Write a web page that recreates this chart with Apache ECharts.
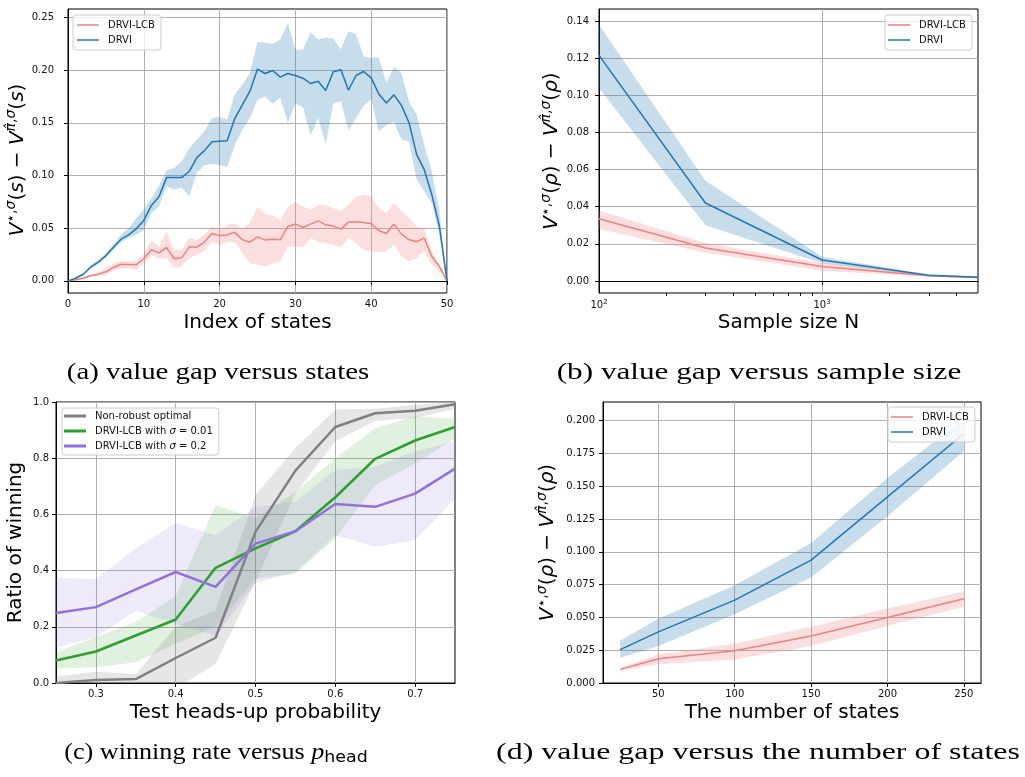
<!DOCTYPE html>
<html><head><meta charset="utf-8">
<script src="https://cdn.jsdelivr.net/npm/echarts@6/dist/echarts.min.js"></script>
<style>html,body{margin:0;padding:0;background:#fff}#c{width:1025px;height:777px}</style>
</head><body><div id="c"></div>
<script>
// ---------- (a) value gap versus states ----------
const aStates = [0,1,2,3,4,5,6,7,8,9,10,11,12,13,14,15,16,17,18,19,20,21,22,23,24,25,26,27,28,29,30,31,32,33,34,35,36,37,38,39,40,41,42,43,44,45,46,47,48,49,50];
const aDRVI = [0,0.0025,0.0063,0.013,0.0177,0.024,0.032,0.0396,0.0437,0.0494,0.0574,0.0716,0.0798,0.098,0.098,0.098,0.104,0.117,0.1236,0.132,0.1325,0.133,0.154,0.167,0.18,0.201,0.1968,0.1996,0.1933,0.1968,0.1949,0.1923,0.1873,0.1895,0.1806,0.1984,0.2003,0.1809,0.1949,0.1987,0.1926,0.1774,0.1689,0.1765,0.1664,0.1499,0.1198,0.1055,0.0818,0.0516,0];
const aDRVIHi = [0,0.003,0.007,0.015,0.02,0.026,0.035,0.044,0.05,0.0596,0.0675,0.0786,0.0897,0.105,0.107,0.1134,0.126,0.134,0.142,0.1546,0.1556,0.153,0.177,0.186,0.197,0.227,0.226,0.225,0.229,0.245,0.219,0.2196,0.236,0.229,0.231,0.230,0.2196,0.237,0.2345,0.213,0.2117,0.212,0.188,0.203,0.197,0.170,0.158,0.129,0.104,0.066,0];
const aDRVILo = [0,0.002,0.005,0.012,0.016,0.022,0.029,0.037,0.0406,0.0437,0.0485,0.0643,0.0707,0.0897,0.0865,0.0887,0.080,0.1023,0.110,0.111,0.110,0.108,0.129,0.1435,0.1546,0.172,0.175,0.168,0.174,0.150,0.168,0.165,0.138,0.1546,0.130,0.168,0.1705,0.143,0.1546,0.166,0.1727,0.142,0.148,0.151,0.134,0.1325,0.096,0.085,0.074,0.044,0];
const aLCB = [0,0.001,0.0025,0.0048,0.0063,0.0086,0.013,0.0158,0.0155,0.0152,0.021,0.0295,0.0266,0.0317,0.021,0.0219,0.0323,0.032,0.0368,0.045,0.0428,0.0437,0.046,0.039,0.0368,0.0418,0.0387,0.0396,0.039,0.0516,0.0539,0.0507,0.0539,0.057,0.0532,0.052,0.0491,0.0558,0.0561,0.0554,0.0542,0.0478,0.045,0.0539,0.0444,0.039,0.0374,0.0406,0.0231,0.0136,0];
const aLCBHi = [0,0.002,0.004,0.006,0.008,0.012,0.0168,0.019,0.0184,0.0184,0.0263,0.038,0.0326,0.0469,0.0295,0.0295,0.0406,0.039,0.0437,0.0516,0.0485,0.0532,0.0548,0.050,0.0548,0.0707,0.0634,0.062,0.058,0.0707,0.0745,0.0707,0.0675,0.0722,0.0716,0.069,0.0665,0.0722,0.080,0.0817,0.080,0.069,0.0643,0.0738,0.066,0.0596,0.0516,0.0494,0.0279,0.0152,0];
const aLCBLo = [0,0.0005,0.001,0.004,0.005,0.0057,0.0098,0.012,0.012,0.0105,0.0168,0.024,0.0215,0.0215,0.012,0.0136,0.0215,0.0247,0.0279,0.0368,0.0342,0.0368,0.0368,0.0263,0.0168,0.0152,0.0136,0.0168,0.0184,0.0326,0.0326,0.0317,0.0406,0.0368,0.0358,0.0342,0.0317,0.0406,0.0358,0.0295,0.0279,0.0272,0.0279,0.0342,0.0231,0.0184,0.0215,0.0285,0.0152,0.0089,0];
const aXTicks = [0,10,20,30,40,50];
const aYTicks = [0,0.05,0.10,0.15,0.20,0.25];

// ---------- (b) value gap versus sample size ----------
const bN = [100,300,1000,3000,5000];
const bDRVI = [0.1215,0.042,0.0113,0.003,0.002];
const bDRVIHi = [0.138,0.054,0.013,0.0035,0.0025];
const bDRVILo = [0.104,0.030,0.0095,0.0025,0.0015];
const bLCB = [0.0335,0.0177,0.0078,0.0028,0.0018];
const bLCBHi = [0.038,0.0205,0.0097,0.0033,0.0022];
const bLCBLo = [0.028,0.0152,0.0055,0.0023,0.0014];
const bXMajor = [100,1000];
const bXMinor = [200,300,400,500,600,700,800,900,2000,3000,4000];
const bYTicks = [0,0.02,0.04,0.06,0.08,0.10,0.12,0.14];

// ---------- (c) winning rate versus p_head ----------
const cP = [0.25,0.30,0.35,0.40,0.45,0.50,0.55,0.60,0.65,0.70,0.75];
const cNon = [0.0,0.011,0.014,0.089,0.161,0.538,0.756,0.911,0.96,0.969,0.992];
const cNonHi = [0.023,0.04,0.032,0.2,0.258,0.669,0.836,0.973,0.976,0.99,1.0];
const cNonLo = [-0.02,-0.02,-0.01,-0.02,0.068,0.36,0.675,0.86,0.933,0.943,0.976];
const cG = [0.08,0.112,0.169,0.226,0.41,0.479,0.54,0.661,0.798,0.863,0.911];
const cGHi = [0.11,0.163,0.217,0.31,0.633,0.586,0.68,0.80,0.907,0.949,0.94];
const cGLo = [0.052,0.056,0.074,0.14,0.2,0.37,0.389,0.514,0.705,0.78,0.871];
const cPu = [0.249,0.27,0.333,0.395,0.342,0.496,0.54,0.637,0.627,0.674,0.763];
const cPuHi = [0.374,0.371,0.479,0.570,0.526,0.627,0.645,0.758,0.77,0.824,0.86];
const cPuLo = [0.127,0.163,0.258,0.21,0.169,0.354,0.395,0.526,0.485,0.508,0.657];
const cXTicks = [0.3,0.4,0.5,0.6,0.7];
const cYTicks = [0,0.2,0.4,0.6,0.8,1.0];

// ---------- (d) value gap versus number of states ----------
const dS = [25,50,100,150,200,250];
const dDRVI = [0.0254,0.039,0.0632,0.0937,0.1419,0.190];
const dDRVIHi = [0.0322,0.049,0.0746,0.1068,0.1563,0.2015];
const dDRVILo = [0.0193,0.0282,0.0525,0.0805,0.1272,0.1766];
const dLCB = [0.0104,0.0185,0.0246,0.0358,0.05,0.0642];
const dLCBHi = [0.0117,0.0218,0.0302,0.0429,0.0569,0.0695];
const dLCBLo = [0.0094,0.0142,0.018,0.0282,0.0434,0.0581];
const dXTicks = [50,100,150,200,250];
const dYTicks = [0,0.025,0.05,0.075,0.1,0.125,0.15,0.175,0.2];

const NAME_LCB = 'DRVI-LCB', NAME_DRVI = 'DRVI';
const NAME_NON = 'Non-robust optimal', NAME_G = 'DRVI-LCB with σ=0.01', NAME_PU = 'DRVI-LCB with σ=0.2';

// ---------- styling ----------
const FONT = 'DejaVu Sans';
const C_LCB = '#f08080', C_DRVI = '#1f77b4', C_NON = '#808080', C_G = '#2ca02c', C_PU = '#9370db';
const GRID_C = '#b0b0b0';

function pairs(xs, ys){ return xs.map((x,i)=>[x, ys[i]]); }
function band(xs, lo, hi, fill, xi, yi){
  return {type:'custom', xAxisIndex:xi, yAxisIndex:yi, clip:true, silent:true, z:1,
    data: xs.map((x,i)=>[x, lo[i], hi[i]]),
    encode:{x:0, y:[1,2]},
    renderItem:function(params, api){
      if (params.dataIndex !== 0) return null;
      const pts = [];
      for (let i=0;i<xs.length;i++) pts.push(api.coord([xs[i], hi[i]]));
      for (let i=xs.length-1;i>=0;i--) pts.push(api.coord([xs[i], lo[i]]));
      const cs = params.coordSys;
      return {type:'group', children:[{type:'polygon', shape:{points:pts}, style:{fill:fill, stroke:null}}],
              clipPath:{type:'rect', shape:{x:cs.x, y:cs.y, width:cs.width, height:cs.height}}};
    }};
}
// minor ticks of the log axis, placed through the axis scale
function minorTicks(vals, xi, yi){
  return {type:'custom', xAxisIndex:xi, yAxisIndex:yi, clip:false, silent:true, z:5,
    data: vals.map(v=>[v, 0]), encode:{x:0, y:1},
    renderItem:function(params, api){
      const cs = params.coordSys;
      const p = api.coord([api.value(0), api.value(1)]);
      const yb = cs.y + cs.height;
      const x = Math.round(p[0]) + 0.5;
      return {type:'line', shape:{x1:x, y1:yb, x2:x, y2:yb + 3}, style:{stroke:'#000', lineWidth:1}};
    }};
}
function line(name, xs, ys, color, w, xi, yi){
  return {name, type:'line', xAxisIndex:xi, yAxisIndex:yi, data:pairs(xs, ys), symbol:'none', showSymbol:false,
          lineStyle:{color, width:w}, itemStyle:{color}, z:3};
}
const tickLbl = {fontFamily:FONT, fontSize:10, color:'#111'};
function vAxis(grid, min, max, step, ticks, fmt, margin, name, gap){
  return {type:'value', gridIndex:grid, min, max, minInterval:step, maxInterval:step,
    axisLine:{show:true, lineStyle:{color:'#000', width:1}},
    axisTick:{show:true, length:4, lineStyle:{color:'#000'}, customValues:ticks},
    axisLabel:Object.assign({margin, customValues:ticks, formatter:fmt, showMinLabel:true, showMaxLabel:true}, tickLbl),
    splitLine:{show:true, lineStyle:{color:GRID_C, width:1}},
    name, nameLocation:'middle', nameGap:gap};
}
const richMath = {
  v:{fontFamily:FONT, fontSize:20, fontStyle:'italic', color:'#000'},
  n:{fontFamily:FONT, fontSize:20, color:'#000'},
  sp:{fontFamily:FONT, fontSize:14, color:'#000', padding:[0,0,12,0]},
  si:{fontFamily:FONT, fontSize:14, fontStyle:'italic', color:'#000', padding:[0,0,12,0]}
};
function gapName(arg){ return '{v|V}{sp|⋆,}{si|σ}{n|(}{v|'+arg+'}{n|) − }{v|V}{si|π̂}{sp|,}{si|σ}{n|(}{v|'+arg+'}{n|)}'; }
function nameStyle(shift){ return {fontFamily:FONT, fontSize:20, color:'#000', rich:richMath, padding:shift}; }
const xNameStyle = {fontFamily:FONT, fontSize:20, color:'#000'};

const xAxes = [
  Object.assign(vAxis(0, 0, 50, 10, aXTicks, v=>String(v), 6, 'Index of states', 20), {nameTextStyle:xNameStyle}),
  {type:'log', gridIndex:1, logBase:10, min:100, max:5000, position:'bottom',
   axisLine:{show:true, lineStyle:{color:'#000'}},
   axisTick:{show:true, length:4, lineStyle:{color:'#000'}, customValues:bXMajor},
   axisLabel:Object.assign({margin:6, customValues:bXMajor, formatter:v=>'10{sup|'+Math.round(Math.log10(v))+'}',
     rich:{sup:{fontFamily:FONT, fontSize:7, color:'#111', padding:[0,0,6,0]}}}, tickLbl),
   splitLine:{show:true, lineStyle:{color:GRID_C, width:1}},
   name:'Sample size N', nameLocation:'middle', nameGap:20, nameTextStyle:xNameStyle},
  Object.assign(vAxis(2, 0.25, 0.75, 0.1, cXTicks, v=>v.toFixed(1), 6, 'Test heads-up probability', 20), {nameTextStyle:xNameStyle}),
  Object.assign(vAxis(3, 13.75, 261.25, 50, dXTicks, v=>String(v), 6, 'The number of states', 20), {nameTextStyle:xNameStyle})
];
const yAxes = [
  Object.assign(vAxis(0, -0.0115, 0.258, 0.05, aYTicks, v=>v.toFixed(2), 14, gapName('s'), 20), {nameTextStyle:nameStyle([0,18,0,0])}),
  Object.assign(vAxis(1, -0.0065, 0.1465, 0.02, bYTicks, v=>v.toFixed(2), 10, gapName('ρ'), 34), {nameTextStyle:nameStyle([0,0,0,0])}),
  Object.assign(vAxis(2, 0, 1, 0.2, cYTicks, v=>v.toFixed(1), 7, 'Ratio of winning', 30), {nameTextStyle:xNameStyle}),
  Object.assign(vAxis(3, 0, 0.2142, 0.025, dYTicks, v=>v.toFixed(3), 8, gapName('ρ'), 42), {nameTextStyle:nameStyle([0,0,0,0])})
];

const series = [
  band(aStates, aDRVILo, aDRVIHi, 'rgba(31,119,180,0.25)', 0, 0),
  band(aStates, aLCBLo, aLCBHi, 'rgba(240,128,128,0.25)', 0, 0),
  line(NAME_LCB, aStates, aLCB, C_LCB, 1.5, 0, 0), line(NAME_DRVI, aStates, aDRVI, C_DRVI, 1.5, 0, 0),
  band(bN, bDRVILo, bDRVIHi, 'rgba(31,119,180,0.25)', 1, 1),
  band(bN, bLCBLo, bLCBHi, 'rgba(240,128,128,0.25)', 1, 1),
  line(NAME_LCB, bN, bLCB, C_LCB, 1.5, 1, 1), line(NAME_DRVI, bN, bDRVI, C_DRVI, 1.5, 1, 1),
  minorTicks(bXMinor, 1, 1),
  band(cP, cNonLo, cNonHi, 'rgba(128,128,128,0.2)', 2, 2),
  band(cP, cGLo, cGHi, 'rgba(44,160,44,0.15)', 2, 2),
  band(cP, cPuLo, cPuHi, 'rgba(147,112,219,0.15)', 2, 2),
  line(NAME_NON, cP, cNon, C_NON, 2.5, 2, 2), line(NAME_G, cP, cG, C_G, 2.5, 2, 2), line(NAME_PU, cP, cPu, C_PU, 2.5, 2, 2),
  band(dS, dDRVILo, dDRVIHi, 'rgba(31,119,180,0.25)', 3, 3),
  band(dS, dLCBLo, dLCBHi, 'rgba(240,128,128,0.25)', 3, 3),
  line(NAME_LCB, dS, dLCB, C_LCB, 1.5, 3, 3), line(NAME_DRVI, dS, dDRVI, C_DRVI, 1.5, 3, 3)
];

function legend(pos, names, padding, lw, formatter){
  return Object.assign({orient:'vertical', data:names, icon:'rect', itemWidth:22, itemHeight:lw, itemGap:3,
    backgroundColor:'rgba(255,255,255,0.8)', borderColor:'#cccccc', borderWidth:1, borderRadius:3, padding,
    selectedMode:false,
    textStyle:{fontFamily:FONT, fontSize:10, color:'#111', lineHeight:12, padding:[0,0,0,4],
      rich:{n:{fontFamily:FONT, fontSize:10, color:'#111'}, i:{fontFamily:FONT, fontSize:10, fontStyle:'italic', color:'#111'}}},
    formatter}, pos);
}
function sigmaFmt(name){
  const m = name.match(/^(.*)σ=(.*)$/);
  if (!m) return name;
  return m[1] + '{i|σ}{n| = ' + m[2] + '}';
}

const capStyle = {fontFamily:'Liberation Serif', fontSize:24, fill:'#000', textAlign:'center', textVerticalAlign:'middle'};
function caption(x, y, sx, text, rich){
  return {type:'text', x, y, scaleX:sx, originX:0, originY:0, silent:true,
    style:Object.assign({text, x:0, y:0, rich}, capStyle)};
}

const option = {
  animation:false,
  backgroundColor:'#fff',
  grid:[
    {left:68, top:9, width:379, height:284, show:true, borderColor:'#000', borderWidth:1, backgroundColor:'transparent'},
    {left:599, top:9, width:379, height:284, show:true, borderColor:'#000', borderWidth:1, backgroundColor:'transparent'},
    {left:56, top:402, width:399, height:281, show:true, borderColor:'#000', borderWidth:1, backgroundColor:'transparent'},
    {left:603, top:402, width:378, height:281, show:true, borderColor:'#000', borderWidth:1, backgroundColor:'transparent'}
  ],
  xAxis:xAxes,
  yAxis:yAxes,
  legend:[
    legend({left:73, top:15}, [NAME_LCB, NAME_DRVI], [4,6,4,4], 1.5),
    legend({left:885, top:15}, [NAME_LCB, NAME_DRVI], [4,6,4,3], 1.5),
    legend({left:62, top:408}, [NAME_NON, NAME_G, NAME_PU], [2,6,3,2], 3, sigmaFmt),
    legend({left:888, top:407}, [NAME_LCB, NAME_DRVI], [4,6,4,3], 1.5)
  ],
  series,
  graphic:[
    caption(218, 373, 1.2, '(a) value gap versus states'),
    caption(759, 373, 1.3, '(b) value gap versus sample size'),
    caption(216, 753, 1.09, '(c) winning rate versus {p|p}{h|head}', {
      p:{fontFamily:'Liberation Serif', fontSize:24, fontStyle:'italic', fill:'#000'},
      h:{fontFamily:FONT, fontSize:16, fill:'#000', padding:[10,0,0,0]}}),
    caption(758, 753, 1.33, '(d) value gap versus the number of states')
  ]
};
const chart = echarts.init(document.getElementById('c'), null, {renderer:'canvas'});
chart.setOption(option);
</script></body></html>
